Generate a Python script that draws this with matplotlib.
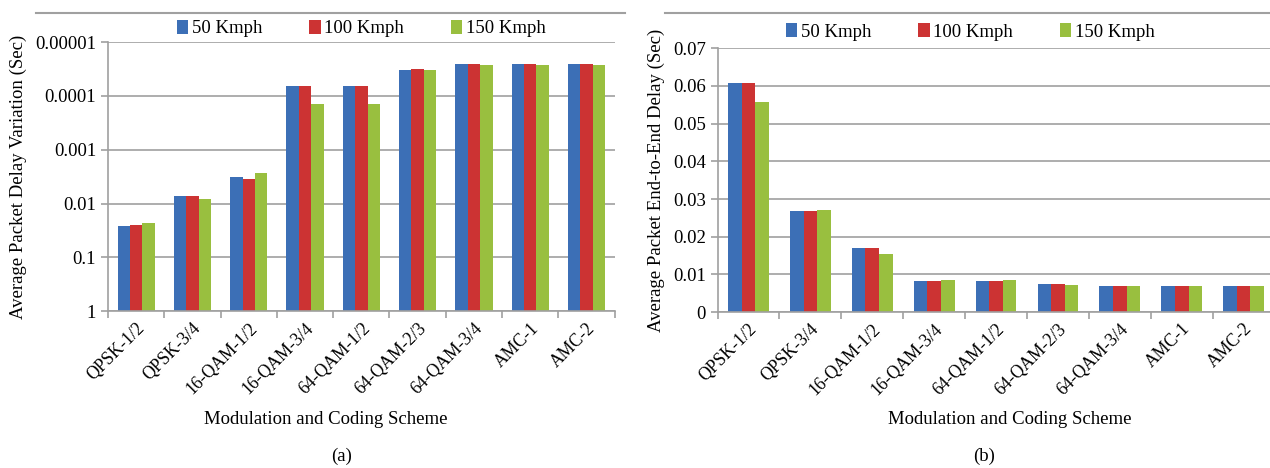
import numpy as np
import matplotlib
matplotlib.use('Agg')
import matplotlib.pyplot as plt
from matplotlib.lines import Line2D

plt.rcParams['font.family'] = ['Liberation Serif', 'DejaVu Serif']

schemes = ["QPSK-1/2", "QPSK-3/4", "16-QAM-1/2", "16-QAM-3/4", "64-QAM-1/2",
           "64-QAM-2/3", "64-QAM-3/4", "AMC-1", "AMC-2"]
speeds = ["50 Kmph", "100 Kmph", "150 Kmph"]
colors = ["#3C6FB6", "#CC3333", "#99BF3F"]

# (a) average packet delay variation (sec), log axis drawn upside down
pdv_50 = [0.0263, 0.0073, 0.0032, 0.000065, 0.000065, 0.0000336, 0.0000252, 0.0000252, 0.0000252]
pdv_100 = [0.0248, 0.0073, 0.0035, 0.000065, 0.000065, 0.0000317, 0.0000252, 0.0000252, 0.0000252]
pdv_150 = [0.0234, 0.0083, 0.0027, 0.000143, 0.000143, 0.0000336, 0.0000267, 0.0000267, 0.0000267]

# (b) average packet end-to-end delay (sec)
e2e_50 = [0.0608, 0.0267, 0.0171, 0.0082, 0.0082, 0.0074, 0.0069, 0.0069, 0.0069]
e2e_100 = [0.0608, 0.0267, 0.0171, 0.0082, 0.0082, 0.0074, 0.0069, 0.0069, 0.0069]
e2e_150 = [0.0558, 0.0272, 0.0155, 0.0086, 0.0086, 0.0073, 0.0069, 0.0069, 0.0069]

log_ticks = [1, 0.1, 0.01, 0.001, 0.0001, 0.00001]
log_labels = ["1", "0.1", "0.01", "0.001", "0.0001", "0.00001"]

FS = 13.5
FS_X = 12.7
GRID = "#A0A0A0"
x = np.arange(len(schemes))
w = 0.22


def style_axes(ax, label_x, label_y):
    for s in ["top", "right"]:
        ax.spines[s].set_visible(False)
    for s in ["left", "bottom"]:
        ax.spines[s].set_color(GRID)
        ax.spines[s].set_linewidth(1.2)
    ax.set_axisbelow(True)
    ax.grid(axis="y", color=GRID, linewidth=1.2)
    ax.set_xlim(-0.5, len(schemes) - 0.5)
    ax.set_xticks(x)
    ax.set_xticklabels(schemes, rotation=45, ha="right", rotation_mode="anchor", fontsize=FS_X)
    ax.set_xticks(np.arange(len(schemes) + 1) - 0.5, minor=True)
    ax.tick_params(axis="x", which="major", length=0, pad=6)
    ax.tick_params(axis="x", which="minor", length=5, color=GRID, width=1.2)
    ax.tick_params(axis="y", length=5, color=GRID, width=1.2, labelsize=FS)
    ax.set_xlabel("Modulation and Coding Scheme", fontsize=FS, va="center")
    ax.xaxis.set_label_coords(label_x, label_y)


fig = plt.figure(figsize=(12.7, 4.68), dpi=100)

# (a)
ax1 = fig.add_axes([0.085, 0.335, 0.399, 0.575])
ax1.set_yscale("log")
for i, vals in enumerate([pdv_50, pdv_100, pdv_150]):
    v = np.array(vals)
    ax1.bar(x + (i - 1) * w, v - 1, bottom=1, width=w, color=colors[i], label=speeds[i])
ax1.set_ylim(1, 0.00001)
ax1.set_yticks(log_ticks)
ax1.set_yticklabels(log_labels)
ax1.yaxis.set_minor_locator(matplotlib.ticker.NullLocator())
style_axes(ax1, 0.43, -0.404)
ax1.set_ylabel("Average Packet Delay Variation (Sec)", fontsize=FS, labelpad=6)
ax1.legend(loc="lower center", bbox_to_anchor=(0.5, 0.99), ncol=3, frameon=False,
           fontsize=FS, handlelength=0.6, handleheight=0.8, handletextpad=0.2,
           columnspacing=2.5, borderaxespad=0)
fig.text(0.269, 0.0256, "(a)", ha="center", va="center", fontsize=FS)

# (b)
ax2 = fig.add_axes([0.565, 0.333, 0.4386, 0.564])
for i, vals in enumerate([e2e_50, e2e_100, e2e_150]):
    ax2.bar(x + (i - 1) * w, vals, width=w, color=colors[i], label=speeds[i])
ax2.set_ylim(0, 0.07)
ax2.set_yticks(np.arange(0, 0.071, 0.01))
ax2.set_yticklabels(["0"] + ["%.2f" % t for t in np.arange(0.01, 0.071, 0.01)])
style_axes(ax2, 0.524, -0.4085)
ax2.set_ylabel("Average Packet End-to-End Delay (Sec)", fontsize=FS, labelpad=6)
ax2.legend(loc="lower center", bbox_to_anchor=(0.454, 1.0), ncol=3, frameon=False,
           fontsize=FS, handlelength=0.6, handleheight=0.8, handletextpad=0.2,
           columnspacing=2.5, borderaxespad=0)
fig.text(0.775, 0.0256, "(b)", ha="center", va="center", fontsize=FS)

# chart frame top lines
fig.add_artist(Line2D([0.028, 0.492], [0.972, 0.972], color=GRID, linewidth=1.5))
fig.add_artist(Line2D([0.524, 1.0], [0.972, 0.972], color=GRID, linewidth=1.5))

fig.savefig("out.png", dpi=100)
